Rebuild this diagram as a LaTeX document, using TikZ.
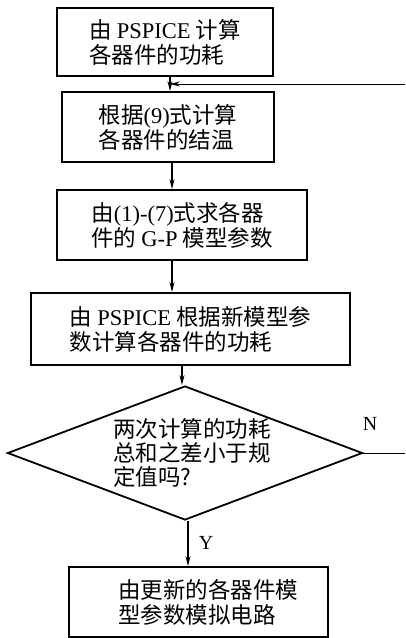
\documentclass[tikz,border=0pt]{standalone}
\usepackage{fontspec}
\setmainfont{Liberation Serif}
\newfontfamily\cjk{Noto Sans CJK SC}
\usetikzlibrary{arrows.meta,shapes.geometric}
\newcommand\lat[1]{{\rmfamily #1}}
\tikzset{
  box/.style={draw, line width=1.8pt, rectangle, align=left, inner sep=0pt,
    font=\cjk\fontsize{22.5}{25}\selectfont},
  dia/.style={draw, line width=1.8pt, diamond, shape aspect=2.65, align=left, inner sep=0pt,
    minimum width=355pt, minimum height=134pt, font=\cjk\fontsize{22.5}{24}\selectfont},
  arr/.style={line width=1.5pt, -{Stealth[length=10pt,width=5pt]}},
  thin/.style={line width=0.9pt},
  lab/.style={font=\rmfamily\fontsize{20}{22}\selectfont, inner sep=0pt}
}
\begin{document}
\begin{tikzpicture}[x=1pt,y=1pt]
\useasboundingbox (0,0) rectangle (405,-638);
\node[box, minimum width=216pt, minimum height=68pt] (b1) at (165,-42)
  {由 \lat{PSPICE} 计算\\各器件的功耗};
\node[box, minimum width=212pt, minimum height=70pt] (b2) at (168,-127)
  {根据\lat{(9)}式计算\\各器件的结温};
\node[box, minimum width=250pt, minimum height=70pt] (b3) at (182,-225)
  {由\lat{(1)-(7)}式求各器\\件的 \lat{G-P} 模型参数};
\node[box, minimum width=319pt, minimum height=72pt] (b4) at (190.5,-329)
  {由 \lat{PSPICE} 根据新模型参\\数计算各器件的功耗};
\node[dia] (d) at (185,-453)
  {\hspace*{14pt}两次计算的功耗\\\hspace*{14pt}总和之差小于规\\\hspace*{14pt}定值吗?};
\node[box, minimum width=259pt, minimum height=70pt] (b5) at (198.5,-602)
  {\hspace*{20pt}由更新的各器件模\\\hspace*{20pt}型参数模拟电路};
\coordinate (x1) at (170,0);
\coordinate (x2) at (172,0);
\coordinate (x3) at (182,0);
\coordinate (x4) at (188,0);
\coordinate (fb) at (405,-84);
\coordinate (nout) at (405,-449);
\draw[arr] (b1.south -| x1) -- (b2.north -| x1);
\draw[arr, thin] (fb) -- (fb -| x1);
\draw[arr] (b2.south -| x2) -- (b3.north -| x2);
\draw[arr] (b3.south -| x2) -- (b4.north -| x2);
\draw[arr] (b4.south -| x3) -- (d.north -| x3);
\draw[arr] (d.south -| x4) -- (b5.north -| x4);
\draw[thin] (d.east) -- (d.east -| nout);
\node[lab] (ln) at (370,-424) {N};
\node[lab] (ly) at (206,-543) {Y};
\end{tikzpicture}
\end{document}
